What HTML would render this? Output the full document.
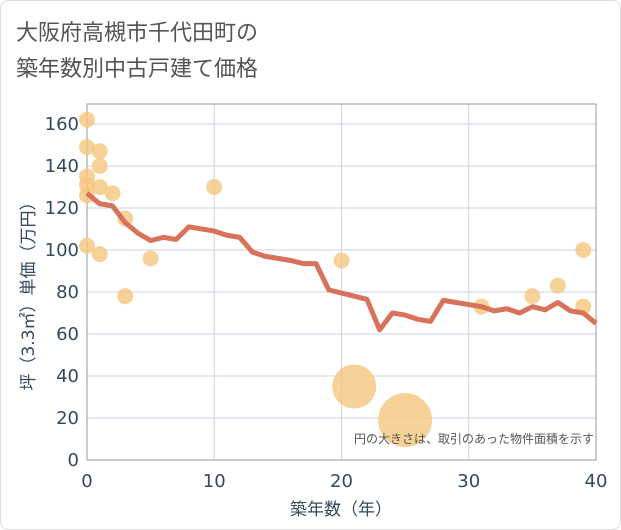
<!DOCTYPE html>
<html><head><meta charset="utf-8"><style>
body{margin:0;background:#fff}
svg{display:block;font-family:"DejaVu Sans","Noto Sans CJK JP",sans-serif}
</style></head><body>
<svg width="621" height="530">
<rect x="0.5" y="0.5" width="620" height="529" rx="8" fill="#fff" stroke="#ddd"/>
<text x="16" y="40" font-size="22" fill="#555">大阪府高槻市千代田町の</text>
<text x="16" y="76" font-size="22" fill="#555">築年数別中古戸建て価格</text>
<g id="grid"></g>
<rect x="87" y="104" width="509" height="356" fill="none" stroke="#999"/>
<g id="scatter"></g>
<g id="line"></g>
<g id="axes"></g>
<text x="594" y="443" font-size="12" fill="#555" text-anchor="end">円の大きさは、取引のあった物件面積を示す</text>
<text x="341" y="515" font-size="17" fill="#34495e" text-anchor="middle">築年数（年）</text>
<text transform="translate(34,292) rotate(-90)" font-size="17" fill="#34495e" text-anchor="middle">坪（3.3㎡）単価（万円）</text>
</svg>
<script>
const xTicks=[0,10,20,30,40];
const yTicks=[0,20,40,60,80,100,120,140,160];
const lineX=[0,1,2,3,4,5,6,7,8,9,10,11,12,13,14,15,16,17,18,19,20,21,22,23,24,25,26,27,28,29,30,31,32,33,34,35,36,37,38,39,40];
const lineY=[127,122,121,113,108,104.5,106,105,111,110,109,107,106,99,97,96,95,93.5,93.5,81,79.5,78,76.5,62,70,69,67,66,76,75,74,73,71,72,70,73,71.5,75,71,70,65];
const ptX=[0,0,0,0,0,0,1,1,1,1,2,3,3,5,10,20,21,25,31,35,37,39,39];
const ptY=[162,149,135,131,126,102,147,140,130,98,127,115,78,96,130,95,35,19,73,78,83,100,73];
const ptR=[8,8,8,8,8,8,8,8,8,8,8,8,8,8,8,8,22,27,8,8,8,8,8];
const sx=v=>87+v*509/40, sy=v=>460-v*356/169.5;
const NS="http://www.w3.org/2000/svg";
function mk(t,a,p){const e=document.createElementNS(NS,t);for(const k in a)e.setAttribute(k,a[k]);p.appendChild(e);return e;}
const grid=document.getElementById('grid'),axes=document.getElementById('axes');
xTicks.forEach(v=>{
 const l=mk('line',{x1:sx(v),x2:sx(v),y1:104,y2:460,stroke:'#c9d6e6'},grid);
 
 
 const t=mk('text',{x:sx(v),y:487,'font-size':18,fill:'#34495e','text-anchor':'middle'},axes);
 t.textContent=v;
 
 
});
yTicks.forEach(v=>{
 const l=mk('line',{x1:87,x2:596,y1:sy(v),y2:sy(v),stroke:'#c9d6e6'},grid);
 
 
 const t=mk('text',{x:79,y:sy(v)+6,'font-size':18,fill:'#34495e','text-anchor':'end'},axes);
 t.textContent=v;
 
 
});
const sc=document.getElementById('scatter');
ptX.forEach((x,i)=>{
 const c=mk('circle',{cx:sx(x),cy:sy(ptY[i]),r:ptR[i],fill:'#f5c77e','fill-opacity':0.8},sc);
 
 
});
const p=mk('polyline',{points:lineX.map((x,i)=>sx(x)+','+sy(lineY[i])).join(' '),fill:'none',stroke:'#d9725a','stroke-width':5,'stroke-linejoin':'round'},document.getElementById('line'));


</script>
</body></html>
